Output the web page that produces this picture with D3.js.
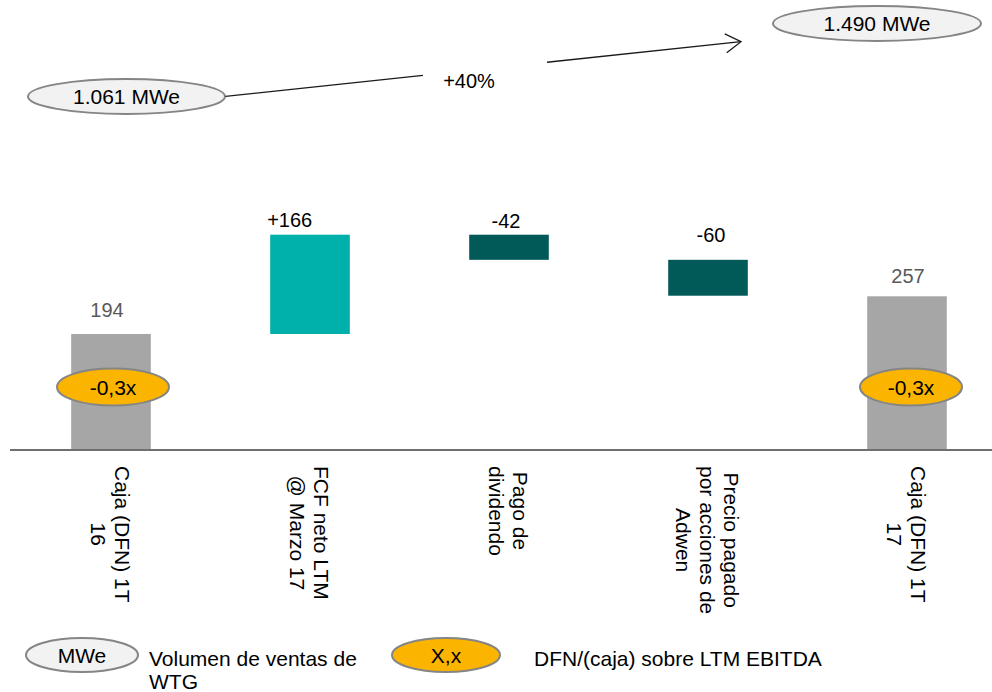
<!DOCTYPE html>
<html>
<head>
<meta charset="utf-8">
<script src="https://cdn.jsdelivr.net/npm/d3@7"></script>
<style>
  html, body { margin: 0; padding: 0; background: #ffffff; }
  svg { display: block; }
  text { font-family: "Liberation Sans", Arial, sans-serif; }
</style>
</head>
<body>
<svg id="chart" width="992" height="692"></svg>
<script>
// Waterfall of net cash (DFN) between 1T 16 and 1T 17
const categories = [
  ["Caja (DFN) 1T", "16"],
  ["FCF neto LTM", "@ Marzo 17"],
  ["Pago de", "dividendo"],
  ["Precio pagado", "por acciones de", "Adwen"],
  ["Caja (DFN) 1T", "17"]
];
const values = [194, 166, -42, -60, 257];
const kinds = ["total", "delta", "delta", "delta", "total"];
const valueLabels = ["194", "+166", "-42", "-60", "257"];
const leverageLabels = ["-0,3x", null, null, null, "-0,3x"];

// Sales volume comparison shown above the bars
const volumeLabels = ["1.061 MWe", "1.490 MWe"];
const growthLabel = "+40%";

// Legend entries
const legendItems = [
  { badge: "MWe", text: ["Volumen de ventas de", "WTG"] },
  { badge: "X,x", text: ["DFN/(caja) sobre LTM EBITDA"] }
];

const colors = {
  total: "#a6a6a6",
  up: "#00b0aa",
  down: "#025a58",
  axis: "#6f6f6f",
  badgeGray: "#f2f2f2",
  badgeOrange: "#fbb400",
  badgeStroke: "#858585",
  totalLabel: "#595959"
};

const svg = d3.select("#chart");

// Floating segments of the waterfall
let running = 0;
const bars = values.map((v, i) => {
  let y0, y1;
  if (kinds[i] === "total") { y0 = 0; y1 = v; running = v; }
  else { y0 = running; y1 = running + v; running = y1; }
  return {
    i, v, kind: kinds[i],
    lo: Math.min(y0, y1), hi: Math.max(y0, y1),
    fill: kinds[i] === "total" ? colors.total : (v >= 0 ? colors.up : colors.down)
  };
});

const x = d3.scaleBand()
  .domain(d3.range(categories.length))
  .range([11.5, 1006.5])
  .paddingInner(0.6)
  .paddingOuter(0.3);

const y = d3.scaleLinear().domain([0, 360]).range([450, 234.7]);

// Bars
svg.append("g").selectAll("rect")
  .data(bars)
  .join("rect")
  .attr("x", d => x(d.i))
  .attr("width", x.bandwidth())
  .attr("y", d => y(d.hi))
  .attr("height", d => y(d.lo) - y(d.hi))
  .attr("fill", d => d.fill);

// Baseline
svg.append("line")
  .attr("x1", 10).attr("x2", 992)
  .attr("y1", y(0)).attr("y2", y(0))
  .attr("stroke", colors.axis)
  .attr("stroke-width", 2);

// Value labels above each segment
const labelDx = [-4, 0, -3, 3, 1];
const labelGap = [17, 8, 7, 18, 13];
svg.append("g").selectAll("text")
  .data(bars)
  .join("text")
  .attr("x", d => d.kind === "delta" && d.v > 0 ? x(d.i) - 3 : x(d.i) + x.bandwidth() / 2 + labelDx[d.i])
  .attr("y", d => y(d.hi) - labelGap[d.i])
  .attr("text-anchor", d => d.kind === "delta" && d.v > 0 ? "start" : "middle")
  .attr("font-size", 20)
  .attr("fill", d => d.kind === "total" ? colors.totalLabel : "#000000")
  .text(d => valueLabels[d.i]);

// Leverage badges on the total bars
const badgeRx = [56, 0, 0, 0, 51];
const badgeDx = [2, 0, 0, 0, 4];
const badges = svg.append("g").selectAll("g")
  .data(bars.filter(d => leverageLabels[d.i]))
  .join("g")
  .attr("transform", d => `translate(${x(d.i) + x.bandwidth() / 2 + badgeDx[d.i]},387)`);
badges.append("ellipse")
  .attr("rx", d => badgeRx[d.i]).attr("ry", 18.5)
  .attr("fill", colors.badgeOrange)
  .attr("stroke", colors.badgeStroke)
  .attr("stroke-width", 2);
badges.append("text")
  .attr("text-anchor", "middle")
  .attr("dominant-baseline", "central")
  .attr("font-size", 21)
  .attr("fill", "#000")
  .text(d => leverageLabels[d.i]);

// Rotated multi-line category labels
const lineStep = 24;
const catG = svg.append("g").selectAll("g")
  .data(categories)
  .join("g");
catG.each(function(lines, i) {
  const g = d3.select(this);
  const cx = x(i) + x.bandwidth() / 2;
  const n = lines.length;
  const t = g.append("text")
    .attr("font-size", 21)
    .attr("fill", "#000")
    .attr("text-anchor", "middle")
    .attr("dominant-baseline", "central");
  const spans = lines.map((s, k) => t.append("tspan")
    .attr("x", 0)
    .attr("y", -((n - 1) / 2 - k) * lineStep)
    .text(s));
  const maxW = d3.max(spans, s => s.node().getComputedTextLength());
  g.attr("transform", `translate(${cx},${466 + maxW / 2}) rotate(90)`);
});

// Sales volume ellipses and growth arrow
const volPos = [{ cx: 126.5, cy: 96.5, rx: 98.5 }, { cx: 877, cy: 23.5, rx: 104 }];
const vol = svg.append("g").selectAll("g")
  .data(volumeLabels)
  .join("g")
  .attr("transform", (d, i) => `translate(${volPos[i].cx},${volPos[i].cy})`);
vol.append("ellipse")
  .attr("rx", (d, i) => volPos[i].rx).attr("ry", 17.5)
  .attr("fill", colors.badgeGray)
  .attr("stroke", colors.badgeStroke)
  .attr("stroke-width", 2);
vol.append("text")
  .attr("text-anchor", "middle")
  .attr("dominant-baseline", "central")
  .attr("font-size", 21)
  .attr("fill", "#000")
  .text(d => d);

const from = [225.5, 96.3], to = [741, 41.7];
const along = xx => [xx, from[1] + (to[1] - from[1]) * (xx - from[0]) / (to[0] - from[0])];
const conn = svg.append("g").attr("stroke", "#1a1a1a").attr("stroke-width", 1.3).attr("fill", "none");
conn.append("line")
  .attr("x1", from[0]).attr("y1", from[1])
  .attr("x2", along(423)[0]).attr("y2", along(423)[1]);
conn.append("line")
  .attr("x1", along(547)[0]).attr("y1", along(547)[1])
  .attr("x2", to[0]).attr("y2", to[1]);
// open arrow head
const ang = Math.atan2(to[1] - from[1], to[0] - from[0]);
const headLen = 18, headSpread = 0.55;
conn.append("path")
  .attr("d", d3.line()([
    [to[0] - headLen * Math.cos(ang - headSpread), to[1] - headLen * Math.sin(ang - headSpread)],
    to,
    [to[0] - headLen * Math.cos(ang + headSpread), to[1] - headLen * Math.sin(ang + headSpread)]
  ]));

svg.append("text")
  .attr("x", 469).attr("y", 88)
  .attr("text-anchor", "middle")
  .attr("font-family", "Lato, Carlito, sans-serif")
  .attr("font-size", 20)
  .attr("fill", "#000")
  .text(growthLabel);

// Legend
const legendPos = [
  { cx: 82, rx: 56, fill: colors.badgeGray, tx: 149 },
  { cx: 446, rx: 54, fill: colors.badgeOrange, tx: 534 }
];
const leg = svg.append("g").selectAll("g")
  .data(legendItems)
  .join("g");
leg.append("ellipse")
  .attr("cx", (d, i) => legendPos[i].cx).attr("cy", 655)
  .attr("rx", (d, i) => legendPos[i].rx).attr("ry", 17)
  .attr("fill", (d, i) => legendPos[i].fill)
  .attr("stroke", colors.badgeStroke)
  .attr("stroke-width", 2);
leg.append("text")
  .attr("x", (d, i) => legendPos[i].cx).attr("y", 655)
  .attr("text-anchor", "middle")
  .attr("dominant-baseline", "central")
  .attr("font-size", 21)
  .attr("fill", "#000")
  .text(d => d.badge);
leg.append("text")
  .attr("font-size", 21)
  .attr("fill", "#000")
  .each(function(d, i) {
    d3.select(this).selectAll("tspan")
      .data(d.text)
      .join("tspan")
      .attr("x", legendPos[i].tx)
      .attr("y", (s, k) => 666 + k * 23)
      .text(s => s);
  });
</script>
</body>
</html>
